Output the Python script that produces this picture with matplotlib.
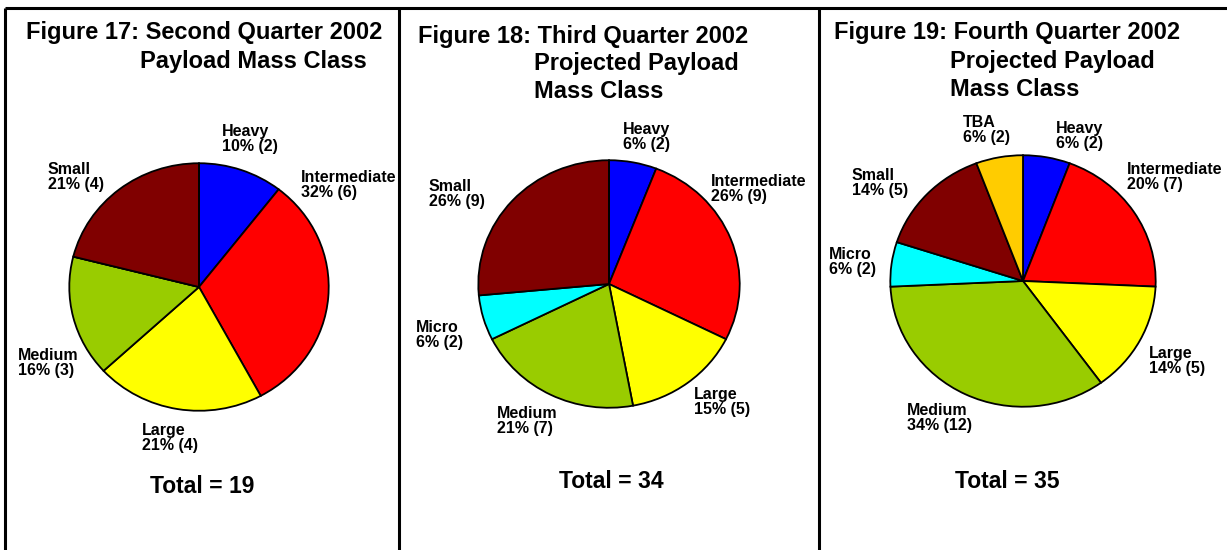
import matplotlib
matplotlib.use("Agg")
import matplotlib.pyplot as plt

W, H = 1227, 550

# ---------------- data ----------------
categories = ["Heavy", "Intermediate", "Large", "Medium", "Micro", "Small", "TBA"]
colors = ["#0000FF", "#FF0000", "#FFFF00", "#99CC00", "#00FFFF", "#800000", "#FFCC00"]

q2_counts = [2, 6, 4, 3, 0, 4, 0]
q3_counts = [2, 9, 5, 7, 2, 9, 0]
q4_counts = [2, 7, 5, 12, 2, 5, 2]

q2_pct = ["10%", "32%", "21%", "16%", "", "21%", ""]
q3_pct = ["6%", "26%", "15%", "21%", "6%", "26%", ""]
q4_pct = ["6%", "20%", "14%", "34%", "6%", "14%", "6%"]

titles_first = ["Figure 17: Second Quarter 2002",
                "Figure 18: Third Quarter 2002",
                "Figure 19: Fourth Quarter 2002"]
titles_rest = [["Payload Mass Class"],
               ["Projected Payload", "Mass Class"],
               ["Projected Payload", "Mass Class"]]
totals = [19, 34, 35]

# ---------------- layout (pixels) ----------------
pie_geom = [(199, 287, 131, 125), (609, 284, 132, 125), (1023, 281, 134, 127)]
title1_pos = [(26, 39), (418, 43), (834, 39)]
title2_pos = [(140, 68), (534, 70), (950, 68)]
TITLE_STEP = 28
LABEL_STEP = 15
total_pos = [(202, 493), (611, 488), (1007, 488)]
label_pos = [
    {"Heavy": (222, 136), "Intermediate": (301, 182), "Large": (142, 435),
     "Medium": (18, 360), "Small": (48, 174)},
    {"Heavy": (623, 134), "Intermediate": (711, 186), "Large": (694, 399),
     "Medium": (497, 418), "Micro": (416, 332), "Small": (429, 191)},
    {"Heavy": (1056, 133), "Intermediate": (1127, 174), "Large": (1149, 358),
     "Medium": (907, 415), "Micro": (829, 259), "Small": (852, 180),
     "TBA": (963, 127)},
]

FONT = "Liberation Sans"

fig = plt.figure(figsize=(W / 100, H / 100), dpi=100)
fig.patch.set_facecolor("white")


def fx(x):
    return x / W


def fy(y):
    return 1 - y / H


# frame lines
frame = fig.add_axes([0, 0, 1, 1], zorder=-1)
frame.set_xlim(0, W)
frame.set_ylim(H, 0)
frame.axis("off")
frame.plot([5, W], [8, 8], color="black", lw=2.2, solid_capstyle="butt")
for xv in (5, 399, 819):
    frame.plot([xv, xv], [8, H], color="black", lw=2.2, solid_capstyle="butt")

all_counts = [q2_counts, q3_counts, q4_counts]
all_pct = [q2_pct, q3_pct, q4_pct]

for i in range(3):
    cx, cy, rx, ry = pie_geom[i]
    ax = fig.add_axes([fx(cx - rx), fy(cy + ry), 2 * rx / W, 2 * ry / H])
    ax.pie(all_counts[i], colors=colors, startangle=90, counterclock=False,
           radius=1.0,
           wedgeprops=dict(edgecolor="black", linewidth=1.3))
    ax.set_aspect("auto")
    ax.set_xlim(-1.01, 1.01)
    ax.set_ylim(-1.01, 1.01)
    ax.axis("off")

    # labels
    for cat, cnt, pct in zip(categories, all_counts[i], all_pct[i]):
        if cnt == 0:
            continue
        lx, ly = label_pos[i][cat]
        for k, line in enumerate([cat, f"{pct} ({cnt})"]):
            fig.text(fx(lx), fy(ly + k * LABEL_STEP), line, ha="left",
                     va="baseline", fontsize=11.5, fontweight="bold",
                     family=FONT)

    # titles
    tx, ty = title1_pos[i]
    fig.text(fx(tx), fy(ty), titles_first[i], ha="left", va="baseline",
             fontsize=17, fontweight="bold", family=FONT)
    tx, ty = title2_pos[i]
    for k, line in enumerate(titles_rest[i]):
        fig.text(fx(tx), fy(ty + k * TITLE_STEP), line, ha="left",
                 va="baseline", fontsize=17, fontweight="bold", family=FONT)

    # totals
    tx, ty = total_pos[i]
    fig.text(fx(tx), fy(ty), f"Total = {totals[i]}", ha="center",
             va="baseline", fontsize=16.5, fontweight="bold", family=FONT)

fig.savefig("out.png", dpi=100, facecolor="white")
